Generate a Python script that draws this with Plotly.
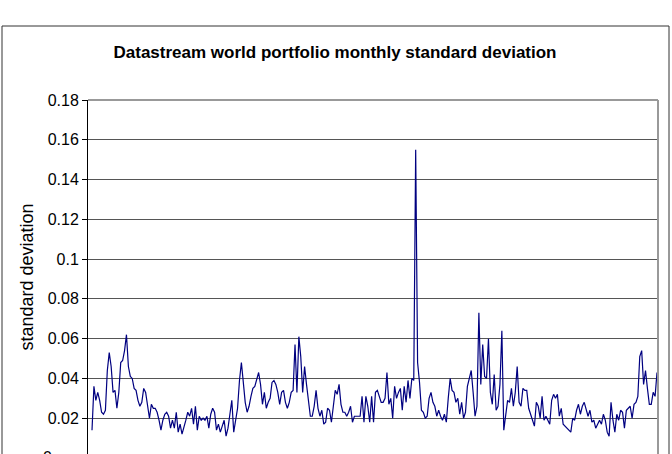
import plotly.graph_objects as go

# monthly standard deviation, traced in chronological segments
sd_part1 = [0.014, 0.036, 0.029, 0.033, 0.029, 0.023, 0.022, 0.024, 0.044, 0.053, 0.046, 0.033, 0.034, 0.025,
            0.033, 0.048, 0.049, 0.054, 0.062, 0.046, 0.041, 0.040, 0.035, 0.034, 0.029, 0.026, 0.028, 0.035,
            0.033, 0.027, 0.020, 0.027, 0.025, 0.025, 0.023, 0.019, 0.014, 0.019, 0.022, 0.023, 0.021, 0.015]
sd_part2 = [0.019, 0.015, 0.023, 0.013, 0.017, 0.012, 0.015, 0.019, 0.023, 0.021, 0.025, 0.017, 0.026, 0.014,
            0.021, 0.019, 0.020, 0.019, 0.021, 0.015, 0.022, 0.025, 0.023, 0.014, 0.017, 0.013, 0.016, 0.019,
            0.011, 0.015, 0.022, 0.029, 0.013, 0.019, 0.025, 0.039, 0.048, 0.038, 0.028, 0.023, 0.026, 0.031,
            0.035, 0.036, 0.039, 0.043, 0.037, 0.027, 0.033, 0.025]
sd_part3 = [0.028, 0.030, 0.038, 0.039, 0.037, 0.033, 0.027, 0.033, 0.034, 0.028, 0.025, 0.028, 0.033, 0.034,
            0.057, 0.033, 0.061, 0.051, 0.033, 0.046, 0.037, 0.030, 0.021, 0.021, 0.026, 0.034, 0.025, 0.021,
            0.024, 0.017, 0.018, 0.025, 0.024, 0.018, 0.026, 0.034, 0.032, 0.037, 0.027, 0.023, 0.023, 0.021,
            0.023, 0.026, 0.018, 0.021, 0.021, 0.021, 0.021, 0.031]
sd_part4 = [0.018, 0.031, 0.026, 0.018, 0.031, 0.018, 0.033, 0.034, 0.031, 0.028, 0.028, 0.030, 0.043, 0.027,
            0.030, 0.020, 0.036, 0.030, 0.033, 0.035, 0.024, 0.036, 0.028, 0.039, 0.030, 0.040, 0.039, 0.155,
            0.048, 0.038, 0.024, 0.023, 0.020, 0.021, 0.030, 0.033, 0.028, 0.026, 0.021, 0.024, 0.021, 0.019,
            0.022, 0.018, 0.030, 0.040, 0.034, 0.033, 0.028, 0.030, 0.022, 0.028, 0.020]
sd_part5 = [0.023, 0.036, 0.040, 0.044, 0.033, 0.021, 0.026, 0.073, 0.037, 0.057, 0.041, 0.040, 0.060, 0.033,
            0.027, 0.042, 0.024, 0.026, 0.037, 0.064, 0.014, 0.021, 0.029, 0.028, 0.035, 0.026, 0.033, 0.046,
            0.028, 0.026, 0.035, 0.034, 0.034, 0.025, 0.022, 0.018, 0.016, 0.028, 0.026, 0.020, 0.031, 0.019,
            0.021, 0.019, 0.017, 0.029, 0.032, 0.030, 0.032, 0.021, 0.025]
sd_part6 = [0.017, 0.016, 0.015, 0.014, 0.013, 0.020, 0.019, 0.024, 0.027, 0.022, 0.026, 0.028, 0.025, 0.021,
            0.024, 0.018, 0.019, 0.015, 0.017, 0.019, 0.017, 0.022, 0.019, 0.013, 0.011, 0.028, 0.019, 0.013,
            0.022, 0.019, 0.024, 0.023, 0.015, 0.024, 0.025, 0.026, 0.020, 0.027, 0.028, 0.031, 0.051, 0.054,
            0.037, 0.044, 0.035, 0.027, 0.027, 0.033, 0.031, 0.043]

tick_vals = [0, 0.02, 0.04, 0.06, 0.08, 0.10, 0.12, 0.14, 0.16, 0.18]
tick_text = ["0", "0.02", "0.04", "0.06", "0.08", "0.1", "0.12", "0.14", "0.16", "0.18"]

sd = sd_part1 + sd_part2 + sd_part3 + sd_part4 + sd_part5 + sd_part6
months = list(range(len(sd)))
n = len(sd)

W, H = 672, 454
L, R, T = 88, 658, 100
PX_PER_UNIT = 358 / 0.18
plot_h = H - T
ymin = 0.18 - plot_h / PX_PER_UNIT
step = 565 / (n - 1)

fig = go.Figure(go.Scatter(x=months, y=sd, mode="lines",
                           line=dict(color="#000080", width=1.2), hoverinfo="skip"))

font = "Liberation Sans, Arial, sans-serif"
fig.update_layout(
    width=W, height=H,
    margin=dict(l=L, r=W - R, t=T, b=0),
    paper_bgcolor="white", plot_bgcolor="white",
    showlegend=False,
    font=dict(family=font, size=16, color="black"),
    title=dict(text="<b>Datastream world portfolio monthly standard deviation</b>",
               x=335 / W, xanchor="center", y=1 - 52 / H, yanchor="middle",
               font=dict(family=font, size=17, color="black")),
    xaxis=dict(range=[-4 / step, n - 1 + 1 / step], showgrid=False, showticklabels=False,
               zeroline=False, showline=False, ticks=""),
    yaxis=dict(range=[ymin, 0.18], tickvals=tick_vals, ticktext=tick_text,
               showgrid=True, gridcolor="#555555", gridwidth=1, zeroline=False,
               showline=True, linecolor="black", linewidth=1,
               ticks="outside", ticklen=5, tickcolor="black",
               tickfont=dict(family=font, size=16, color="black"),
               title=dict(text="standard deviation", standoff=9,
                          font=dict(family=font, size=18, color="black"))),
    shapes=[
        dict(type="rect", xref="paper", yref="paper",
             x0=(2 - L) / (R - L), x1=(669 - L) / (R - L),
             y0=-0.05, y1=(H - 26) / plot_h,
             line=dict(color="#333333", width=1), layer="below"),
        dict(type="line", xref="paper", yref="paper", x0=1, x1=1, y0=0, y1=1,
             line=dict(color="#999999", width=2)),
        dict(type="line", xref="paper", yref="paper", x0=0, x1=1, y0=1, y1=1,
             line=dict(color="#999999", width=2)),
    ],
    annotations=[dict(text="0", xref="paper", yref="paper",
                      x=-(L - 41) / (R - L), xanchor="left",
                      y=-(458 - H) / plot_h, yanchor="middle", showarrow=False,
                      font=dict(family=font, size=16, color="black"))],
)

fig.write_html("out.html")
